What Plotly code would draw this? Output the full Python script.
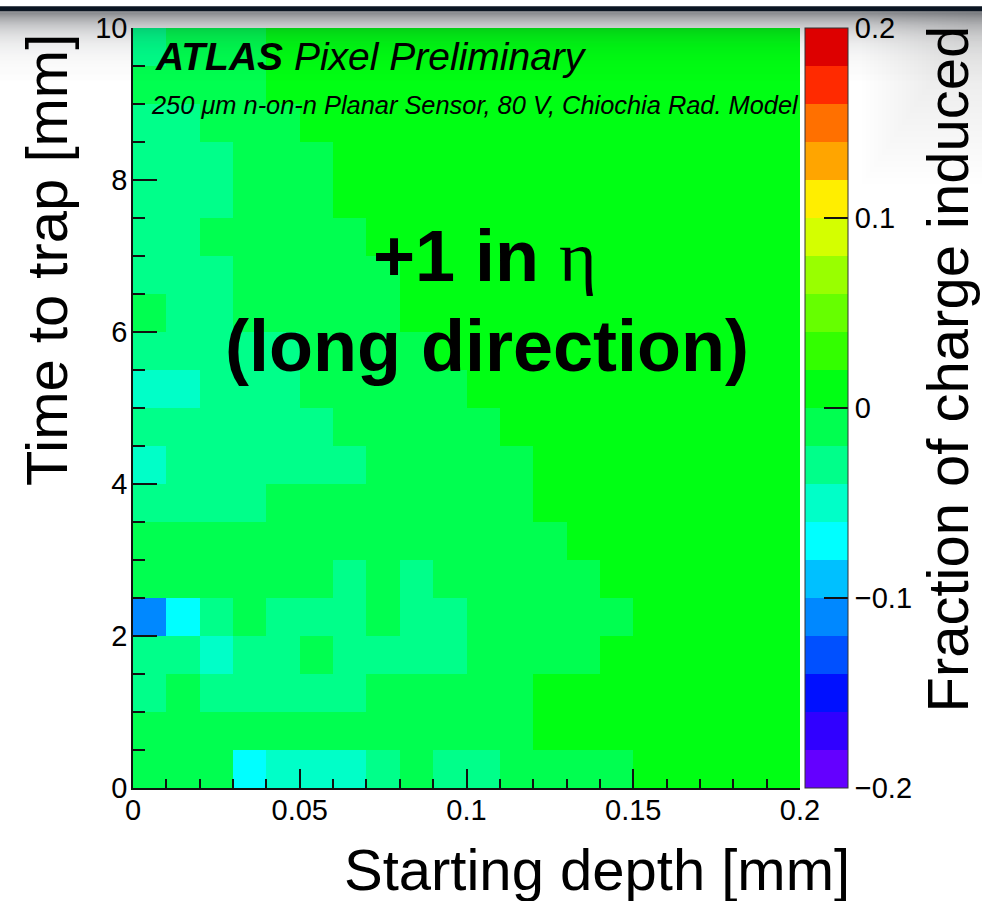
import math
import plotly.graph_objects as go

# Binning: starting depth (mm) and time to trap (mm)
x_centers = [0.005 + 0.01 * i for i in range(20)]
y_centers = [0.25 + 0.5 * j for j in range(20)]

# Fraction of charge induced, one row per time-to-trap bin (bottom row first)
z_rows = [
    [-0.01, -0.01, -0.01, -0.07, -0.05, -0.05, -0.05, -0.03, -0.01, -0.03, -0.03, -0.01, -0.01, -0.01, -0.01, 0.01, 0.01, 0.01, 0.01, 0.01],
    [-0.01, -0.01, -0.01, -0.01, -0.01, -0.01, -0.01, -0.01, -0.01, -0.01, -0.01, -0.01, 0.01, 0.01, 0.01, 0.01, 0.01, 0.01, 0.01, 0.01],
    [-0.03, -0.01, -0.03, -0.03, -0.03, -0.03, -0.03, -0.01, -0.01, -0.01, -0.01, -0.01, 0.01, 0.01, 0.01, 0.01, 0.01, 0.01, 0.01, 0.01],
    [-0.03, -0.03, -0.05, -0.03, -0.03, -0.01, -0.03, -0.03, -0.03, -0.03, -0.01, -0.01, -0.01, -0.01, 0.01, 0.01, 0.01, 0.01, 0.01, 0.01],
    [-0.11, -0.07, -0.03, -0.01, -0.03, -0.03, -0.03, -0.01, -0.03, -0.03, -0.01, -0.01, -0.01, -0.01, -0.01, 0.01, 0.01, 0.01, 0.01, 0.01],
    [-0.01, -0.01, -0.01, -0.01, -0.01, -0.01, -0.03, -0.01, -0.03, -0.01, -0.01, -0.01, -0.01, -0.01, 0.01, 0.01, 0.01, 0.01, 0.01, 0.01],
    [-0.01, -0.01, -0.01, -0.01, -0.01, -0.01, -0.01, -0.01, -0.01, -0.01, -0.01, -0.01, -0.01, 0.01, 0.01, 0.01, 0.01, 0.01, 0.01, 0.01],
    [-0.03, -0.03, -0.03, -0.03, -0.01, -0.01, -0.01, -0.01, -0.01, -0.01, -0.01, -0.01, 0.01, 0.01, 0.01, 0.01, 0.01, 0.01, 0.01, 0.01],
    [-0.05, -0.03, -0.03, -0.03, -0.03, -0.03, -0.03, -0.01, -0.01, -0.01, -0.01, -0.01, 0.01, 0.01, 0.01, 0.01, 0.01, 0.01, 0.01, 0.01],
    [-0.03, -0.03, -0.03, -0.03, -0.03, -0.03, -0.01, -0.01, -0.01, -0.01, -0.01, 0.01, 0.01, 0.01, 0.01, 0.01, 0.01, 0.01, 0.01, 0.01],
    [-0.05, -0.05, -0.03, -0.03, -0.03, -0.01, -0.01, -0.01, -0.01, -0.01, 0.01, 0.01, 0.01, 0.01, 0.01, 0.01, 0.01, 0.01, 0.01, 0.01],
    [-0.03, -0.03, -0.03, -0.03, -0.03, -0.01, -0.01, -0.01, -0.01, 0.01, 0.01, 0.01, 0.01, 0.01, 0.01, 0.01, 0.01, 0.01, 0.01, 0.01],
    [-0.01, -0.03, -0.03, -0.01, -0.01, -0.01, -0.01, -0.01, 0.01, 0.01, 0.01, 0.01, 0.01, 0.01, 0.01, 0.01, 0.01, 0.01, 0.01, 0.01],
    [-0.03, -0.03, -0.03, -0.01, -0.01, -0.01, -0.01, -0.01, 0.01, 0.01, 0.01, 0.01, 0.01, 0.01, 0.01, 0.01, 0.01, 0.01, 0.01, 0.01],
    [-0.03, -0.03, -0.01, -0.01, -0.01, -0.01, -0.01, 0.01, 0.01, 0.01, 0.01, 0.01, 0.01, 0.01, 0.01, 0.01, 0.01, 0.01, 0.01, 0.01],
    [-0.03, -0.03, -0.03, -0.01, -0.01, -0.01, 0.01, 0.01, 0.01, 0.01, 0.01, 0.01, 0.01, 0.01, 0.01, 0.01, 0.01, 0.01, 0.01, 0.01],
    [-0.03, -0.03, -0.03, -0.01, -0.01, -0.01, 0.01, 0.01, 0.01, 0.01, 0.01, 0.01, 0.01, 0.01, 0.01, 0.01, 0.01, 0.01, 0.01, 0.01],
    [-0.03, -0.03, -0.01, -0.01, -0.01, 0.01, 0.01, 0.01, 0.01, 0.01, 0.01, 0.01, 0.01, 0.01, 0.01, 0.01, 0.01, 0.01, 0.01, 0.01],
    [-0.01, -0.01, -0.01, -0.01, 0.01, 0.01, 0.01, 0.01, 0.01, 0.01, 0.01, 0.01, 0.01, 0.01, 0.01, 0.01, 0.01, 0.01, 0.01, 0.01],
    [-0.03, -0.01, -0.01, -0.01, 0.01, 0.01, 0.01, 0.01, 0.01, 0.01, 0.01, 0.01, 0.01, 0.01, 0.01, 0.01, 0.01, 0.01, 0.01, 0.01],
]

x_ticks = [0, 0.05, 0.1, 0.15, 0.2]
x_tick_text = ["0", "0.05", "0.1", "0.15", "0.2"]
y_ticks = [0, 2, 4, 6, 8, 10]
z_ticks = [-0.2, -0.1, 0, 0.1, 0.2]

# 20-step rainbow palette, from -0.2 up to +0.2
palette = [
    "#6400ff", "#3000ff", "#0010ff", "#0050ff", "#0088ff",
    "#00c0ff", "#00ffff", "#00ffc8", "#00ff8a", "#00ff50",
    "#00ff14", "#33ff00", "#66ff00", "#99ff00", "#d4ff00",
    "#ffee00", "#ffa500", "#ff7000", "#ff2a00", "#dd0000",
]
n = len(palette)
colorscale = []
for k, c in enumerate(palette):
    colorscale.append([k / n, c])
    colorscale.append([(k + 1) / n, c])

W, H = 982, 901
L, R, T, B = 133, 182, 22, 113
PW, PH = W - L - R, H - T - B


def px(xp):
    return (xp - L) / PW


def py(yp):
    return (H - B - yp) / PH


SANS = "Liberation Sans"
TICK_FONT = dict(family=SANS, size=29, color="black")

fig = go.Figure(
    go.Heatmap(
        x=x_centers,
        y=y_centers,
        z=z_rows,
        zmin=-0.2,
        zmax=0.2,
        colorscale=colorscale,
        showscale=True,
        xgap=0,
        ygap=0,
        colorbar=dict(
            x=px(805), xanchor="left", xpad=0,
            y=0.5, yanchor="middle", ypad=0,
            len=1, lenmode="fraction",
            thickness=43, thicknessmode="pixels",
            outlinewidth=1, outlinecolor="#333333",
            tickvals=z_ticks,
            ticks="inside", ticklen=24, tickwidth=1.5, tickcolor="#111111",
            tickfont=TICK_FONT,
            ticklabelposition="outside",
        ),
        hoverinfo="skip",
    )
)

axis_common = dict(
    ticks="inside",
    tickwidth=1.5,
    tickcolor="#111111",
    showline=True,
    linecolor="#111111",
    linewidth=1.5,
    showgrid=False,
    zeroline=False,
    mirror=False,
    tickfont=TICK_FONT,
)

fig.update_xaxes(
    range=[0, 0.2], tickvals=x_ticks, ticktext=x_tick_text,
    ticklen=19, ticklabelstandoff=-5,
    minor=dict(dtick=0.01, tick0=0, ticks="inside", ticklen=9, tickwidth=1.5,
               tickcolor="#111111", showgrid=False),
    **axis_common,
)
fig.update_yaxes(
    range=[0, 10], tickvals=y_ticks,
    ticklen=24, ticklabelstandoff=-2,
    minor=dict(dtick=0.5, tick0=0, ticks="inside", ticklen=12, tickwidth=1.5,
               tickcolor="#111111", showgrid=False),
    **axis_common,
)

annotations = [
    dict(text="<b>ATLAS</b> Pixel Preliminary", x=px(153), y=py(51),
         xanchor="left", yanchor="middle",
         font=dict(family=SANS, size=39, color="black", style="italic")),
    dict(text="250 μm n-on-n Planar Sensor, 80 V, Chiochia Rad. Model", x=px(149), y=py(100),
         xanchor="left", yanchor="middle",
         font=dict(family=SANS, size=25.4, color="black", style="italic")),
    dict(text="<b>+1 in </b><span style=\"font-family:'Liberation Serif'\">η</span>",
         x=px(485), y=py(252), xanchor="center", yanchor="middle",
         font=dict(family=SANS, size=72, color="black")),
    dict(text="<b>(long direction)</b>", x=px(487), y=py(343),
         xanchor="center", yanchor="middle",
         font=dict(family=SANS, size=72, color="black")),
    dict(text="Starting depth [mm]", x=px(852), y=py(870),
         xanchor="right", yanchor="middle",
         font=dict(family=SANS, size=58, color="black")),
    dict(text="Time to trap [mm]", x=px(47), y=py(26), textangle=-90,
         xanchor="center", yanchor="top",
         font=dict(family=SANS, size=58, color="black")),
    dict(text="Fraction of charge induced", x=px(948), y=py(18), textangle=-90,
         xanchor="center", yanchor="top",
         font=dict(family=SANS, size=58, color="black")),
]
for a in annotations:
    a.update(xref="paper", yref="paper", showarrow=False)

# Dark slide header with a soft shadow falling onto the page
shapes = [dict(type="rect", xref="paper", yref="paper",
               x0=px(0), x1=px(W), y0=py(5), y1=py(0),
               fillcolor="#0b1522", line=dict(width=0), layer="above")]
for p in range(5, 75):
    op = 0.55 * math.exp(-(p - 5) / 17.0)
    shapes.append(dict(type="rect", xref="paper", yref="paper",
                       x0=px(0), x1=px(W), y0=py(p + 1), y1=py(p),
                       fillcolor=f"rgba(20,24,32,{op:.3f})", line=dict(width=0),
                       layer="above"))
# faint vignette in the upper right corner of the page
for k in range(1, 31):
    shapes.append(dict(type="rect", xref="paper", yref="paper",
                       x0=px(W - 4 * k), x1=px(W), y0=py(6 * k), y1=py(0),
                       fillcolor="rgba(40,40,48,0.005)", line=dict(width=0),
                       layer="below"))

fig.update_layout(
    width=W, height=H,
    margin=dict(l=L, r=R, t=T, b=B, pad=0),
    paper_bgcolor="white",
    plot_bgcolor="white",
    annotations=annotations,
    shapes=shapes,
    showlegend=False,
)

fig.write_html("out.html")
